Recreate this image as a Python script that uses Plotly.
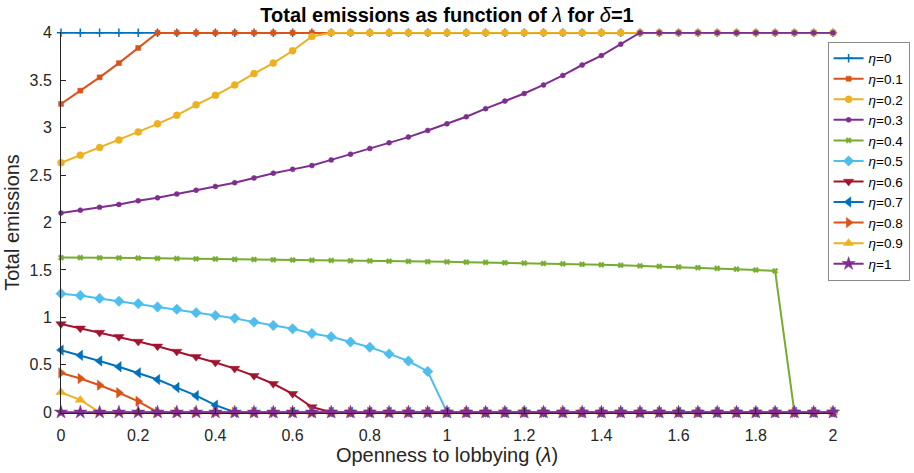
import plotly.graph_objects as go

# Openness to lobbying (lambda), step 0.05 from 0 to 2
lam = [0.00, 0.05, 0.10, 0.15, 0.20, 0.25, 0.30, 0.35, 0.40, 0.45,
       0.50, 0.55, 0.60, 0.65, 0.70, 0.75, 0.80, 0.85, 0.90, 0.95,
       1.00, 1.05, 1.10, 1.15, 1.20, 1.25, 1.30, 1.35, 1.40, 1.45,
       1.50, 1.55, 1.60, 1.65, 1.70, 1.75, 1.80, 1.85, 1.90, 1.95, 2.00]

e_00 = [4, 4, 4, 4, 4, 4, 4, 4, 4, 4,
        4, 4, 4, 4, 4, 4, 4, 4, 4, 4,
        4, 4, 4, 4, 4, 4, 4, 4, 4, 4,
        4, 4, 4, 4, 4, 4, 4, 4, 4, 4, 4]
e_01 = [3.25, 3.39, 3.53, 3.68, 3.84, 4, 4, 4, 4, 4,
        4, 4, 4, 4, 4, 4, 4, 4, 4, 4,
        4, 4, 4, 4, 4, 4, 4, 4, 4, 4,
        4, 4, 4, 4, 4, 4, 4, 4, 4, 4, 4]
e_02 = [2.63, 2.71, 2.79, 2.87, 2.955, 3.04, 3.13, 3.24, 3.34, 3.45,
        3.57, 3.68, 3.81, 3.96, 4, 4, 4, 4, 4, 4,
        4, 4, 4, 4, 4, 4, 4, 4, 4, 4,
        4, 4, 4, 4, 4, 4, 4, 4, 4, 4, 4]
e_03 = [2.10, 2.13, 2.16, 2.19, 2.23, 2.26, 2.30, 2.34, 2.38, 2.42,
        2.47, 2.52, 2.56, 2.60, 2.66, 2.72, 2.78, 2.84, 2.90, 2.97,
        3.04, 3.115, 3.20, 3.28, 3.36, 3.45, 3.55, 3.66, 3.76, 3.88,
        4, 4, 4, 4, 4, 4, 4, 4, 4, 4, 4]
e_04 = [1.630, 1.630, 1.628, 1.627, 1.625, 1.622, 1.620, 1.617, 1.615, 1.612,
        1.610, 1.607, 1.605, 1.602, 1.600, 1.597, 1.595, 1.592, 1.590, 1.587,
        1.585, 1.582, 1.579, 1.576, 1.572, 1.568, 1.564, 1.559, 1.554, 1.549,
        1.543, 1.537, 1.531, 1.524, 1.516, 1.508, 1.499, 1.490, 0, 0, 0]
e_05 = [1.25, 1.23, 1.20, 1.17, 1.145, 1.11, 1.085, 1.05, 1.02, 0.99,
        0.95, 0.915, 0.88, 0.83, 0.795, 0.74, 0.685, 0.615, 0.54, 0.43,
        0, 0, 0, 0, 0, 0, 0, 0, 0, 0,
        0, 0, 0, 0, 0, 0, 0, 0, 0, 0, 0]
e_06 = [0.93, 0.885, 0.84, 0.795, 0.745, 0.695, 0.64, 0.585, 0.525, 0.46,
        0.385, 0.30, 0.195, 0.055, 0, 0, 0, 0, 0, 0,
        0, 0, 0, 0, 0, 0, 0, 0, 0, 0,
        0, 0, 0, 0, 0, 0, 0, 0, 0, 0, 0]
e_07 = [0.655, 0.60, 0.54, 0.48, 0.415, 0.345, 0.26, 0.175, 0.075, 0,
        0, 0, 0, 0, 0, 0, 0, 0, 0, 0,
        0, 0, 0, 0, 0, 0, 0, 0, 0, 0,
        0, 0, 0, 0, 0, 0, 0, 0, 0, 0, 0]
e_08 = [0.415, 0.355, 0.285, 0.205, 0.115, 0, 0, 0, 0, 0,
        0, 0, 0, 0, 0, 0, 0, 0, 0, 0,
        0, 0, 0, 0, 0, 0, 0, 0, 0, 0,
        0, 0, 0, 0, 0, 0, 0, 0, 0, 0, 0]
e_09 = [0.21, 0.13, 0, 0, 0, 0, 0, 0, 0, 0,
        0, 0, 0, 0, 0, 0, 0, 0, 0, 0,
        0, 0, 0, 0, 0, 0, 0, 0, 0, 0,
        0, 0, 0, 0, 0, 0, 0, 0, 0, 0, 0]
e_10 = [0, 0, 0, 0, 0, 0, 0, 0, 0, 0,
        0, 0, 0, 0, 0, 0, 0, 0, 0, 0,
        0, 0, 0, 0, 0, 0, 0, 0, 0, 0,
        0, 0, 0, 0, 0, 0, 0, 0, 0, 0, 0]

eta_labels = ["0", "0.1", "0.2", "0.3", "0.4", "0.5", "0.6", "0.7", "0.8", "0.9", "1"]
series = [e_00, e_01, e_02, e_03, e_04, e_05, e_06, e_07, e_08, e_09, e_10]

x_ticks = [0, 0.2, 0.4, 0.6, 0.8, 1, 1.2, 1.4, 1.6, 1.8, 2]
x_tick_text = ["0", "0.2", "0.4", "0.6", "0.8", "1", "1.2", "1.4", "1.6", "1.8", "2"]
y_ticks = [0, 0.5, 1, 1.5, 2, 2.5, 3, 3.5, 4]
y_tick_text = ["0", "0.5", "1", "1.5", "2", "2.5", "3", "3.5", "4"]

# MATLAB default colour order and per-line marker styles
colors = ["#0072BD", "#D95319", "#EDB120", "#7E2F8E", "#77AC30", "#4DBEEE",
          "#A2142F", "#0072BD", "#D95319", "#EDB120", "#7E2F8E"]
symbols = ["cross-thin", "square", "circle", "circle", "x", "diamond",
           "triangle-down", "triangle-left", "triangle-right", "triangle-up", "star"]
sizes = [6, 5, 7, 5, 5, 8, 9, 9, 9, 9, 10]

fig = go.Figure()
for lab, ys, c, s, sz in zip(eta_labels, series, colors, symbols, sizes):
    marker = dict(symbol=s, size=sz, color=c)
    if s == "cross-thin":
        marker["line"] = dict(color=c, width=1.5)
    else:
        marker["line"] = dict(color=c, width=0.5)
    fig.add_trace(go.Scatter(
        x=lam, y=ys, mode="lines+markers", name=f"<i>η</i>=" + lab,
        line=dict(color=c, width=2), marker=marker, cliponaxis=False,
    ))

font_family = "Liberation Sans, Arial, Helvetica, sans-serif"
axis_color = "#262626"

fig.update_layout(
    width=914, height=473,
    margin=dict(l=61, r=81, t=32, b=60, autoexpand=False),
    paper_bgcolor="white", plot_bgcolor="white",
    font=dict(family=font_family, size=16, color=axis_color),
    title=dict(
        text="<b>Total emissions as function of </b><i>λ</i><b> for </b><i>δ</i><b>=1</b>",
        x=0.5, xref="paper", xanchor="center",
        y=1 - 15 / 473, yref="container", yanchor="middle",
        font=dict(size=20, color="#000000"),
    ),
    showlegend=True,
    legend=dict(
        x=0.993, y=0.974, xanchor="left", yanchor="top",
        bordercolor="#8a8a8a", borderwidth=1, bgcolor="white",
        font=dict(size=13.5, color="#000000"),
        tracegroupgap=0, itemwidth=30,
    ),
    xaxis=dict(
        range=[0, 2], tickvals=x_ticks, ticktext=x_tick_text,
        showgrid=False, zeroline=False, showline=True, linecolor=axis_color, linewidth=1,
        ticks="inside", ticklen=5, tickcolor=axis_color, ticklabelstandoff=8,
        title=dict(text="Openness to lobbying (<i>λ</i>)", font=dict(size=20), standoff=4),
    ),
    yaxis=dict(
        range=[-0.008, 4.008], tickvals=y_ticks, ticktext=y_tick_text,
        showgrid=False, zeroline=False, showline=True, linecolor=axis_color, linewidth=1,
        ticks="inside", ticklen=5, tickcolor=axis_color, ticklabelstandoff=5,
        title=dict(text="Total emissions", font=dict(size=20), standoff=4),
    ),
)

fig.write_html("out.html")
